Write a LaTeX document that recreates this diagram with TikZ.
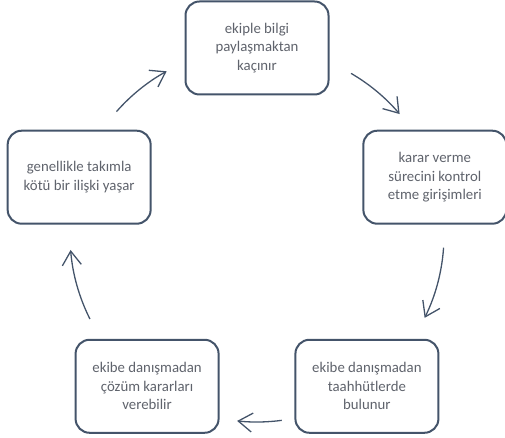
\documentclass[tikz,border=0pt]{standalone}
\usepackage{fontspec}
\setmainfont{Carlito}
\usetikzlibrary{arrows.meta}
\definecolor{edgeblue}{RGB}{68,84,106}
\definecolor{textgray}{RGB}{95,99,108}
\tikzset{
  stagebox/.style={draw=edgeblue, line width=2pt, rounded corners=14pt, fill=white,
    minimum width=143pt, minimum height=93pt, align=center, text=textgray,
    font=\fontsize{14.8}{18.4}\selectfont},
  cyclearrow/.style={draw=edgeblue, line width=1.3pt,
    -{Straight Barb[length=14pt,width=19pt]}}
}
\begin{document}
\begin{tikzpicture}[x=1pt, y=1pt]
        \useasboundingbox (0,0) rectangle (505,438);
        \coordinate (c) at (257,203);
        % stages of the cycle
        \node[stagebox] (share) at ([shift={(90:187)}]c) {ekiple bilgi\\paylaşmaktan\\kaçınır};
        \node[stagebox] (control) at ([shift={(18:187)}]c) {karar verme\\sürecini kontrol\\etme girişimleri};
        \node[stagebox] (commit) at ([shift={(-54:187)}]c) {ekibe danışmadan\\taahhütlerde\\bulunur};
        \node[stagebox] (decide) at ([shift={(-126:187)}]c) {ekibe danışmadan\\çözüm kararları\\verebilir};
        \node[stagebox] (relation) at ([shift={(162:187)}]c) {genellikle takımla\\kötü bir ilişki yaşar};
        % arrows between the stages
        \foreach \from/\upto/\nm in {59.8/40.3/a, -3.9/-26.3/b, -82.4/-96.1/c, -153.3/-175.4/d, 138.7/118.9/e} {
            \coordinate (s\nm) at ([shift={(\from:187)}]c);
            \draw[cyclearrow] (s\nm) arc (\from:\upto:187);
        }
    \end{tikzpicture}
\end{document}
